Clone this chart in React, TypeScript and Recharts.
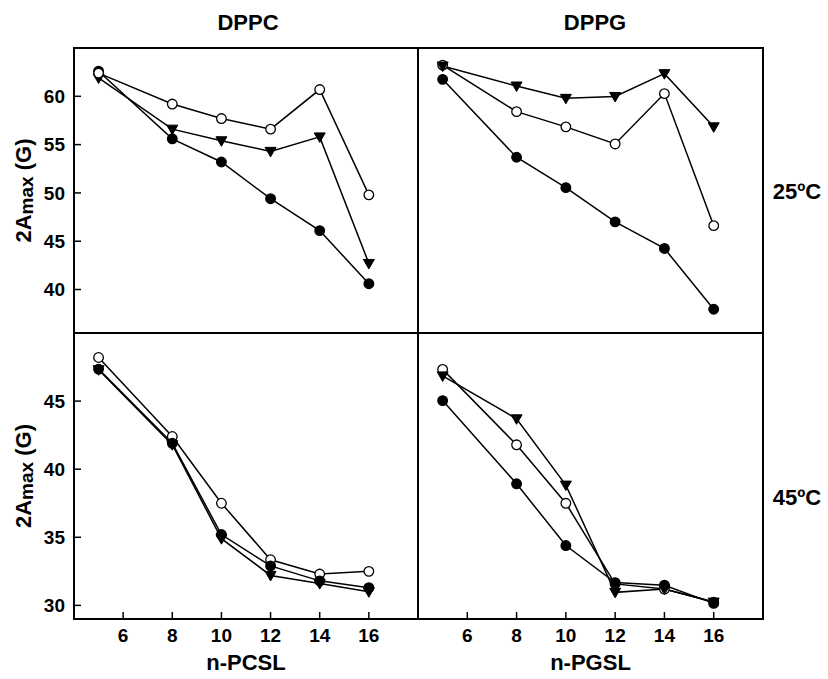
import React from "react";
import { Line, LineChart, ReferenceArea, XAxis, YAxis } from "recharts";

const FONT = "'Liberation Sans', Arial, Helvetica, sans-serif";

// spin-label position n
const nValues = [5, 8, 10, 12, 14, 16];
const xTicks = [6, 8, 10, 12, 14, 16];

// DPPC, 25 C
const dppc25Filled = [62.6, 55.6, 53.2, 49.4, 46.1, 40.6];
const dppc25Triangle = [61.9, 56.6, 55.4, 54.3, 55.8, 42.7];
const dppc25Open = [62.4, 59.2, 57.7, 56.6, 60.7, 49.8];

// DPPG, 25 C
const dppg25Filled = [61.7, 53.5, 50.3, 46.7, 43.9, 37.5];
const dppg25Triangle = [63.1, 61.0, 59.7, 59.9, 62.3, 56.7];
const dppg25Open = [63.2, 58.3, 56.7, 54.9, 60.2, 46.3];

// DPPC, 45 C
const dppc45Filled = [47.35, 41.9, 35.2, 32.9, 31.8, 31.3];
const dppc45Triangle = [47.3, 41.8, 34.9, 32.2, 31.6, 31.0];
const dppc45Open = [48.2, 42.4, 37.5, 33.35, 32.3, 32.5];

// DPPG, 45 C
const dppg45Filled = [44.8, 38.4, 33.65, 30.8, 30.6, 29.2];
const dppg45Triangle = [46.7, 43.4, 38.3, 30.05, 30.3, 29.3];
const dppg45Open = [47.2, 41.4, 36.9, 30.7, 30.3, 29.3];

const yTicksTopLeft = [40, 45, 50, 55, 60];
const yTicksTopRight = [38, 41, 44, 47, 50, 53, 56, 59, 62];
const yTicksBottomLeft = [30, 35, 40, 45];
const yTicksBottomRight = [30, 32, 34, 36, 38, 40, 42, 44, 46, 48];

const rows = (f: number[], t: number[], o: number[]) =>
	nValues.map((n, i) => ({ n, filled: f[i], tri: t[i], open: o[i] }));

function DownTriangle(props: any) {
	const { cx, cy, index } = props;
	if (cx == null || cy == null) return <g key={index} />;
	return (
		<polygon
			key={index}
			points={`${cx - 5.5},${cy - 4} ${cx + 5.5},${cy - 4} ${cx},${cy + 5.5}`}
			fill="#000"
			stroke="#000"
			strokeWidth={1}
		/>
	);
}

function AmaxLabel(props: any) {
	const vb = props.viewBox || { y: 0, height: 0 };
	const x = 23;
	const y = vb.y + vb.height / 2;
	return (
		<text
			x={x}
			y={y}
			transform={`rotate(-90 ${x} ${y})`}
			textAnchor="middle"
			dominantBaseline="central"
			fontFamily={FONT}
			fontWeight="bold"
			fontSize={22}
			fill="#000"
		>
			2A
			<tspan fontSize={19} dy={3}>
				max
			</tspan>
			<tspan dy={-3}> (G)</tspan>
		</text>
	);
}

type Key = "filled" | "tri" | "open";

interface PanelProps {
	data: { n: number; filled: number; tri: number; open: number }[];
	left: number;
	top: number;
	width: number;
	height: number;
	margin: { top: number; right: number; bottom: number; left: number };
	yWidth: number;
	xHeight: number;
	yDomain: [number, number];
	yTicks: number[];
	yLabels: boolean;
	xLabels: boolean;
	xTitle?: string;
	order: Key[];
}

function series(key: Key) {
	if (key === "tri") {
		return (
			<Line
				key={key}
				type="linear"
				dataKey="tri"
				stroke="#000"
				strokeWidth={1.5}
				dot={(d: any) => <DownTriangle key={d.index} {...d} />}
				activeDot={false}
				isAnimationActive={false}
			/>
		);
	}
	return (
		<Line
			key={key}
			type="linear"
			dataKey={key}
			stroke="#000"
			strokeWidth={1.5}
			dot={{
				r: 4.8,
				fill: key === "filled" ? "#000" : "#fff",
				stroke: "#000",
				strokeWidth: 1.3,
			}}
			activeDot={false}
			isAnimationActive={false}
		/>
	);
}

function Panel(p: PanelProps) {
	const tickStyle = {
		fill: "#000",
		fontSize: 19,
		fontWeight: "bold",
		fontFamily: FONT,
	};
	return (
		<div style={{ position: "absolute", left: p.left, top: p.top }}>
			<LineChart width={p.width} height={p.height} data={p.data} margin={p.margin}>
				<ReferenceArea
					x1={4}
					x2={18}
					y1={p.yDomain[0]}
					y2={p.yDomain[1]}
					fill="none"
					stroke="#000"
					strokeWidth={2}
					ifOverflow="visible"
				/>
				<XAxis
					dataKey="n"
					type="number"
					domain={[4, 18]}
					ticks={xTicks}
					height={p.xHeight}
					axisLine={{ stroke: "#000", strokeWidth: 2 }}
					tickLine={{ stroke: "#000", strokeWidth: 1.5 }}
					tickSize={-7}
					tickMargin={17}
					tick={p.xLabels ? tickStyle : false}
					label={
						p.xTitle
							? {
									value: p.xTitle,
									position: "insideTop",
									offset: 35,
									fill: "#000",
									fontSize: 22,
									fontWeight: "bold",
									fontFamily: FONT,
								}
							: undefined
					}
				/>
				<YAxis
					type="number"
					domain={p.yDomain}
					ticks={p.yTicks}
					width={p.yWidth}
					allowDataOverflow
					axisLine={{ stroke: "#000", strokeWidth: 2 }}
					tickLine={{ stroke: "#000", strokeWidth: 1.5 }}
					tickSize={-7}
					tickMargin={16}
					tick={p.yLabels ? tickStyle : false}
					label={p.yLabels ? <AmaxLabel /> : undefined}
				/>
				{p.order.map((k) => series(k))}
			</LineChart>
		</div>
	);
}

const textStyle: React.CSSProperties = {
	position: "absolute",
	transform: "translate(-50%, -50%)",
	fontFamily: FONT,
	fontWeight: "bold",
	fontSize: 22,
	color: "#000",
	whiteSpace: "nowrap",
	lineHeight: 1,
};

export default function App() {
	const topMargin = { top: 48, right: 12, bottom: 12, left: 0 };
	const bottomMargin = { top: 12, right: 12, bottom: 0, left: 0 };
	return (
		<div
			style={{
				position: "absolute",
				left: 0,
				top: 0,
				width: 828,
				height: 679,
				background: "#fff",
				overflow: "hidden",
			}}
		>
			<Panel
				data={rows(dppc25Filled, dppc25Triangle, dppc25Open)}
				left={0}
				top={0}
				width={430}
				height={345}
				margin={topMargin}
				yWidth={74}
				xHeight={0}
				yDomain={[35.5, 65]}
				yTicks={yTicksTopLeft}
				yLabels
				xLabels={false}
				order={["filled", "tri", "open"]}
			/>
			<Panel
				data={rows(dppg25Filled, dppg25Triangle, dppg25Open)}
				left={400}
				top={0}
				width={375}
				height={345}
				margin={topMargin}
				yWidth={18}
				xHeight={0}
				yDomain={[35, 65]}
				yTicks={yTicksTopRight}
				yLabels={false}
				xLabels={false}
				order={["open", "filled", "tri"]}
			/>
			<Panel
				data={rows(dppc45Filled, dppc45Triangle, dppc45Open)}
				left={0}
				top={321}
				width={430}
				height={358}
				margin={bottomMargin}
				yWidth={74}
				xHeight={60}
				yDomain={[29, 50]}
				yTicks={yTicksBottomLeft}
				yLabels
				xLabels
				xTitle="n-PCSL"
				order={["open", "tri", "filled"]}
			/>
			<Panel
				data={rows(dppg45Filled, dppg45Triangle, dppg45Open)}
				left={400}
				top={321}
				width={375}
				height={358}
				margin={bottomMargin}
				yWidth={18}
				xHeight={60}
				yDomain={[28, 50]}
				yTicks={yTicksBottomRight}
				yLabels={false}
				xLabels
				xTitle="n-PGSL"
				order={["open", "tri", "filled"]}
			/>
			<div style={{ ...textStyle, left: 248, top: 23 }}>DPPC</div>
			<div style={{ ...textStyle, left: 595, top: 23 }}>DPPG</div>
			<div style={{ ...textStyle, left: 797, top: 192 }}>25ºC</div>
			<div style={{ ...textStyle, left: 797, top: 498 }}>45ºC</div>
		</div>
	);
}
